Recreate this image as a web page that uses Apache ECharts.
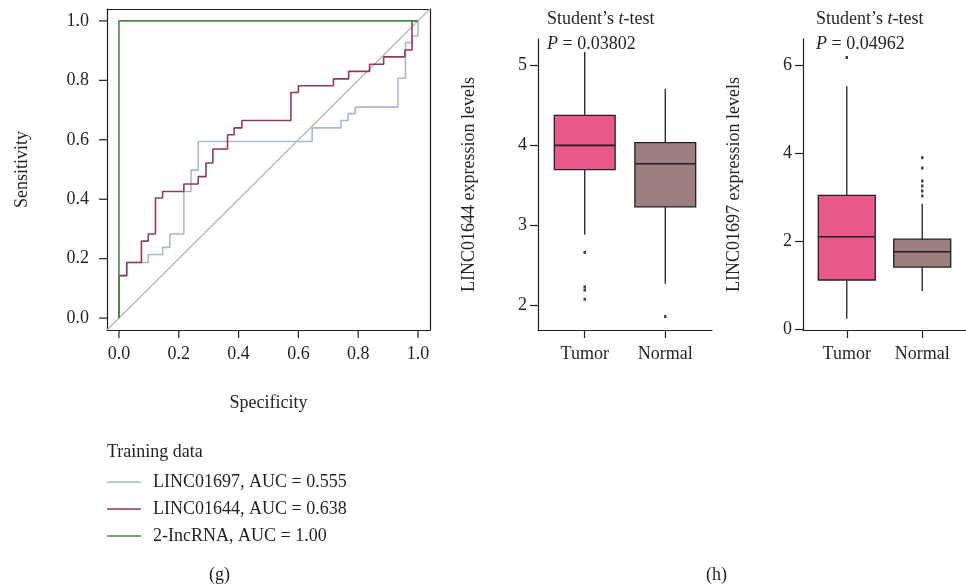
<!DOCTYPE html>
<html>
<head>
<meta charset="utf-8">
<script src="https://cdn.jsdelivr.net/npm/echarts@6/dist/echarts.min.js"></script>
<style>
html,body{margin:0;padding:0;background:#fff;}
#main{width:966px;height:588px;}
</style>
</head>
<body>
<div id="main"></div>
<script>
// ROC curves (g): step vertices, x = specificity axis, y = sensitivity
var roc1697X = [0, 0, 0.026, 0.098, 0.146, 0.170, 0.217, 0.241, 0.265, 0.646, 0.742, 0.766, 0.790, 0.933, 0.958, 0.981, 1.0];
var roc1697Y = [0, 0.143, 0.187, 0.214, 0.238, 0.283, 0.426, 0.498, 0.594, 0.640, 0.665, 0.688, 0.710, 0.807, 0.927, 0.949, 1.0];
var roc1644X = [0, 0, 0.026, 0.075, 0.098, 0.122, 0.146, 0.217, 0.265, 0.291, 0.314, 0.363, 0.385, 0.411, 0.575, 0.600, 0.717, 0.768, 0.838, 0.885, 0.956, 0.980, 1.0];
var roc1644Y = [0, 0.143, 0.187, 0.259, 0.283, 0.404, 0.426, 0.451, 0.476, 0.522, 0.569, 0.617, 0.640, 0.665, 0.759, 0.782, 0.805, 0.830, 0.854, 0.879, 0.902, 1.0, 1.0];
var rocComboX = [0, 0, 1.0];
var rocComboY = [0, 1.0, 1.0];
var refLine = [-0.04, 1.04];
var rocNames = ['LINC01697, AUC = 0.555', 'LINC01644, AUC = 0.638', '2-IncRNA, AUC = 1.00'];
var rocTicks = [0, 0.2, 0.4, 0.6, 0.8, 1.0];
var rocTickStep = 0.2;

// boxplots (h): [position, lower whisker, Q1, median, Q3, upper whisker]
var groups = ['Tumor', 'Normal'];
var box1644 = [[1, 2.883, 3.695, 4.00, 4.375, 5.166], [2, 2.27, 3.229, 3.77, 4.033, 4.708]];
var out1644 = [[1, 2.66], [1, 2.23], [1, 2.19], [1, 2.075], [2, 1.858]];
var box1697 = [[1, 0.233, 1.116, 2.097, 3.04, 5.515], [2, 0.867, 1.41, 1.757, 2.044, 2.85]];
var out1697 = [[1, 6.17], [2, 3.894], [2, 3.659], [2, 3.364], [2, 3.251], [2, 3.138], [2, 3.025]];
var ticks1644 = [2, 3, 4, 5];
var ticks1697 = [0, 2, 4, 6];
var pValues = ['0.03802', '0.04962'];

var FONT = '"Liberation Serif", "DejaVu Serif", serif';
var INK = '#231f20';
var ROC_COLORS = ['#aab8d8', '#8e3b5c', '#4a8a4a'];
var BOX_COLORS = ['#e85888', '#9c7e80'];
var BOX_W = 0.755;
var TICK_LEN = 8;

// ROC frame (grid 0) and the 0..1 label grids (3, 4) sharing the same scale
var ROC = {left: 107, top: 9, width: 323, height: 321};
var span = refLine[1] - refLine[0];
var padX = ROC.width * (0 - refLine[0]) / span;
var padY = ROC.height * (refLine[1] - 1) / span;
var TICK_GRID = {left: ROC.left + padX, top: ROC.top + padY, width: ROC.width - 2 * padX, height: ROC.height - 2 * padY};

function pairs(xs, ys) {
	var arr = [];
	for (var i = 0; i < xs.length; i++) { arr.push([xs[i], ys[i]]); }
	return arr;
}

function renderBox(params, api) {
	var x = api.value(0);
	var lo = api.coord([x, api.value(1)]);
	var q1 = api.coord([x, api.value(2)]);
	var md = api.coord([x, api.value(3)]);
	var q3 = api.coord([x, api.value(4)]);
	var hi = api.coord([x, api.value(5)]);
	var half = api.size([BOX_W, 0])[0] / 2;
	var ln = {stroke: INK, lineWidth: 1.3};
	return {
		type: 'group',
		children: [
			{type: 'line', shape: {x1: lo[0], y1: lo[1], x2: q1[0], y2: q1[1]}, style: ln},
			{type: 'line', shape: {x1: q3[0], y1: q3[1], x2: hi[0], y2: hi[1]}, style: ln},
			{type: 'rect', shape: {x: q3[0] - half, y: q3[1], width: half * 2, height: q1[1] - q3[1]},
				style: {fill: api.visual('color'), stroke: INK, lineWidth: 1.3}},
			{type: 'line', shape: {x1: md[0] - half, y1: md[1], x2: md[0] + half, y2: md[1]}, style: {stroke: INK, lineWidth: 1.6}}
		]
	};
}

function boxItems(rows) {
	return rows.map(function (r, i) {
		return {value: r, itemStyle: {color: BOX_COLORS[i]}};
	});
}

var tickStyle = {show: true, length: TICK_LEN, lineStyle: {color: INK, width: 1.2}};
var labelStyle = {fontFamily: FONT, fontSize: 18, color: INK};
var axLine = {show: true, onZero: false, lineStyle: {color: INK, width: 1.2}};
var nameStyle = {fontFamily: FONT, fontSize: 18, color: INK};

function boxXAxis(gi) {
	return {
		type: 'value', gridIndex: gi, min: 0.42, max: 2.58,
		splitLine: {show: false},
		axisLine: axLine,
		axisTick: Object.assign({customValues: [1, 2]}, tickStyle),
		axisLabel: Object.assign({customValues: [1, 2], margin: 15, formatter: function (v) { return groups[Math.round(v) - 1]; }}, labelStyle)
	};
}

function boxYAxis(gi, mn, mx, tks, name) {
	return {
		type: 'value', gridIndex: gi, min: mn, max: mx,
		name: name, nameLocation: 'middle', nameGap: 60, nameRotate: 90,
		nameTextStyle: nameStyle,
		splitLine: {show: false},
		axisLine: axLine,
		axisTick: Object.assign({customValues: tks}, tickStyle),
		axisLabel: Object.assign({customValues: tks, margin: 11}, labelStyle)
	};
}

// four edges of the ROC frame
function frameAxis(pos) {
	return {
		type: 'value', gridIndex: 0, position: pos, min: refLine[0], max: refLine[1],
		splitLine: {show: false}, axisLine: axLine, axisTick: {show: false}, axisLabel: {show: false}
	};
}

// labels and names of the ROC panel, pushed out to the frame edge
function rocTickAxis(gi, pos, off, name, gap) {
	var ax = {
		type: 'value', gridIndex: gi, position: pos, offset: off, min: 0, max: 1, interval: rocTickStep,
		splitLine: {show: false}, axisLine: {show: false, onZero: false},
		axisTick: {show: false},
		axisLabel: Object.assign({margin: pos === 'left' ? 18 : 15, formatter: function (v) { return v.toFixed(1); }}, labelStyle),
		name: name, nameLocation: 'middle', nameGap: gap, nameTextStyle: nameStyle
	};
	if (pos === 'left') { ax.nameRotate = 90; }
	return ax;
}

// hidden partner axis that keeps the label axis off the zero line
function dummyAxis(gi) {
	return {type: 'value', gridIndex: gi, min: 1, max: 2, show: false};
}

var plain = {fontFamily: FONT, fontSize: 18, fontWeight: 'normal', color: INK};
var titleText = {fontFamily: FONT, fontSize: 18, fontWeight: 'normal', color: INK, lineHeight: 25,
	rich: {i: {fontFamily: FONT, fontSize: 18, fontStyle: 'italic', color: INK, lineHeight: 25}}};

var option = {
	backgroundColor: '#fff',
	animation: false,
	title: [
		{left: 547, top: 7, padding: 0, text: "Student\u2019s {i|t}-test\n{i|P} = " + pValues[0], textStyle: titleText},
		{left: 816, top: 7, padding: 0, text: "Student\u2019s {i|t}-test\n{i|P} = " + pValues[1], textStyle: titleText},
		{left: 107, top: 443, padding: 0, text: 'Training data', textStyle: plain},
		{left: 209, top: 566, padding: 0, text: '(g)', textStyle: plain},
		{left: 706, top: 566, padding: 0, text: '(h)', textStyle: plain}
	],
	legend: {
		orient: 'vertical', left: 107, top: 473, padding: 0, itemWidth: 34, itemHeight: 1.5, itemGap: 9,
		icon: 'rect',
		data: rocNames,
		textStyle: {fontFamily: FONT, fontSize: 18, color: INK, padding: [0, 0, 0, 7]}
	},
	grid: [
		ROC,
		{left: 538, top: 39, width: 174, height: 291},
		{left: 803, top: 39, width: 173, height: 291},
		TICK_GRID,
		TICK_GRID
	],
	xAxis: [
		frameAxis('bottom'),
		boxXAxis(1),
		boxXAxis(2),
		frameAxis('top'),
		rocTickAxis(3, 'bottom', padY, 'Specificity', 64),
		dummyAxis(4)
	],
	yAxis: [
		frameAxis('left'),
		boxYAxis(1, 1.69, 5.33, ticks1644, 'LINC01644 expression levels'),
		boxYAxis(2, -0.02, 6.59, ticks1697, 'LINC01697 expression levels'),
		frameAxis('right'),
		dummyAxis(3),
		rocTickAxis(4, 'left', padX, 'Sensitivity', 76)
	],
	series: [
		{
			type: 'line', xAxisIndex: 0, yAxisIndex: 0, data: [[refLine[0], refLine[0]], [refLine[1], refLine[1]]],
			symbol: 'none', silent: true, lineStyle: {color: '#b4b4b4', width: 1.2}
		},
		{
			name: rocNames[0], type: 'line', step: 'end', xAxisIndex: 0, yAxisIndex: 0,
			data: pairs(roc1697X, roc1697Y), symbol: 'none', color: ROC_COLORS[0], lineStyle: {color: ROC_COLORS[0], width: 1.6}
		},
		{
			name: rocNames[1], type: 'line', step: 'end', xAxisIndex: 0, yAxisIndex: 0,
			data: pairs(roc1644X, roc1644Y), symbol: 'none', color: ROC_COLORS[1], lineStyle: {color: ROC_COLORS[1], width: 1.6}
		},
		{
			name: rocNames[2], type: 'line', step: 'end', xAxisIndex: 0, yAxisIndex: 0,
			data: pairs(rocComboX, rocComboY), symbol: 'none', color: ROC_COLORS[2], lineStyle: {color: ROC_COLORS[2], width: 1.6}
		},
		{type: 'custom', xAxisIndex: 1, yAxisIndex: 1, renderItem: renderBox, encode: {x: 0, y: [1, 2, 3, 4, 5]}, data: boxItems(box1644)},
		{type: 'scatter', xAxisIndex: 1, yAxisIndex: 1, data: out1644, symbol: 'rect', symbolSize: [2.5, 3], itemStyle: {color: '#111'}},
		{type: 'custom', xAxisIndex: 2, yAxisIndex: 2, renderItem: renderBox, encode: {x: 0, y: [1, 2, 3, 4, 5]}, data: boxItems(box1697)},
		{type: 'scatter', xAxisIndex: 2, yAxisIndex: 2, data: out1697, symbol: 'rect', symbolSize: [2.5, 3], itemStyle: {color: '#111'}}
	]
};

var chart = echarts.init(document.getElementById('main'));
chart.setOption(option);

// outward ticks on the ROC frame, placed through the ROC series' own scale
var tickMarks = [];
var tickPen = {stroke: INK, lineWidth: 1.2};
rocTicks.forEach(function (v) {
	var b = chart.convertToPixel({seriesIndex: 1}, [v, refLine[0]]);
	var l = chart.convertToPixel({seriesIndex: 1}, [refLine[0], v]);
	tickMarks.push({type: 'line', silent: true, z: 100, shape: {x1: b[0], y1: b[1], x2: b[0], y2: b[1] + TICK_LEN}, style: tickPen});
	tickMarks.push({type: 'line', silent: true, z: 100, shape: {x1: l[0] - TICK_LEN, y1: l[1], x2: l[0], y2: l[1]}, style: tickPen});
});
chart.setOption({graphic: tickMarks});
</script>
</body>
</html>
